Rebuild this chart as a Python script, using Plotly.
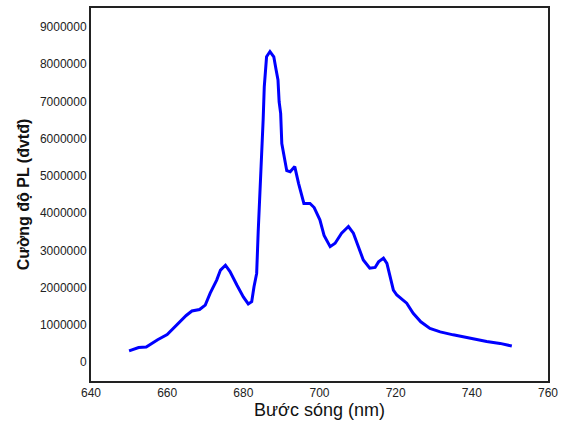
import plotly.graph_objects as go

wavelength = [650.0, 651.5, 652.5, 654.5, 656.0, 657.5, 660.0, 662.5, 665.0, 666.5,
              668.5, 670.0, 671.3, 673.0, 674.0, 675.3, 676.5, 678.3, 680.0, 681.3,
              682.2, 682.8, 683.5, 683.9, 684.3, 684.6, 684.9, 685.2, 685.5, 686.1,
              687.0, 688.0, 688.6, 689.1, 689.4, 689.8, 690.1, 690.7, 691.4, 692.3,
              693.5, 694.5, 695.3, 695.9, 697.5, 698.6, 700.1, 701.2, 702.8, 704.1,
              705.8, 707.6, 708.9, 710.2, 711.5, 713.2, 714.6, 715.5, 716.8, 717.7,
              718.5, 719.4, 720.3, 722.9, 724.6, 726.6, 729.0, 731.7, 735.1, 739.5,
              743.9, 747.4, 750.5]
intensity_m = [0.30, 0.35, 0.39, 0.40, 0.50, 0.60, 0.74, 0.99, 1.25, 1.37,
               1.41, 1.53, 1.85, 2.20, 2.47, 2.60, 2.43, 2.07, 1.75, 1.56,
               1.62, 2.02, 2.38, 3.50, 4.30, 5.00, 5.87, 6.50, 7.40, 8.20,
               8.34, 8.20, 7.85, 7.58, 6.99, 6.68, 5.87, 5.55, 5.14, 5.11,
               5.25, 4.80, 4.53, 4.26, 4.26, 4.15, 3.82, 3.40, 3.10, 3.19,
               3.46, 3.64, 3.46, 3.10, 2.74, 2.52, 2.54, 2.69, 2.79, 2.65,
               2.29, 1.93, 1.80, 1.58, 1.31, 1.08, 0.90, 0.81, 0.73, 0.64,
               0.55, 0.50, 0.43]
intensity = [v * 1e6 for v in intensity_m]

x_ticks = [640, 660, 680, 700, 720, 740, 760]
y_ticks = [0, 1000000, 2000000, 3000000, 4000000, 5000000, 6000000, 7000000, 8000000, 9000000]

fig = go.Figure()
fig.add_trace(go.Scatter(x=wavelength, y=intensity, mode="lines",
                         line=dict(color="#0000FF", width=3), showlegend=False,
                         hoverinfo="skip"))

fig.update_layout(
    width=563, height=423,
    margin=dict(l=91, r=15, t=8, b=42),
    paper_bgcolor="white", plot_bgcolor="white",
    font=dict(family="Arial, Liberation Sans", color="#222"),
)
fig.update_xaxes(
    range=[640, 760], tickvals=x_ticks, ticktext=[str(t) for t in x_ticks],
    showgrid=False, zeroline=False, showline=True, linecolor="#222", linewidth=2,
    mirror=True, ticks="", tickfont=dict(size=12, color="#222"), automargin=False,
    title=dict(text="Bước sóng (nm)", font=dict(size=18, color="#111"), standoff=4),
)
fig.update_yaxes(
    range=[-510000, 9510000], tickvals=y_ticks, ticktext=[str(t) for t in y_ticks],
    showgrid=False, zeroline=False, showline=True, linecolor="#222", linewidth=2,
    mirror=True, ticks="", tickfont=dict(size=12, color="#222"), automargin=False,
    title=dict(text="<b>Cường độ PL (đvtđ)</b>", font=dict(size=16, color="#111"), standoff=6),
)
fig.write_html("out.html", config={"displayModeBar": False},
               post_script="document.body.style.margin='0';document.body.style.overflow='hidden';")
